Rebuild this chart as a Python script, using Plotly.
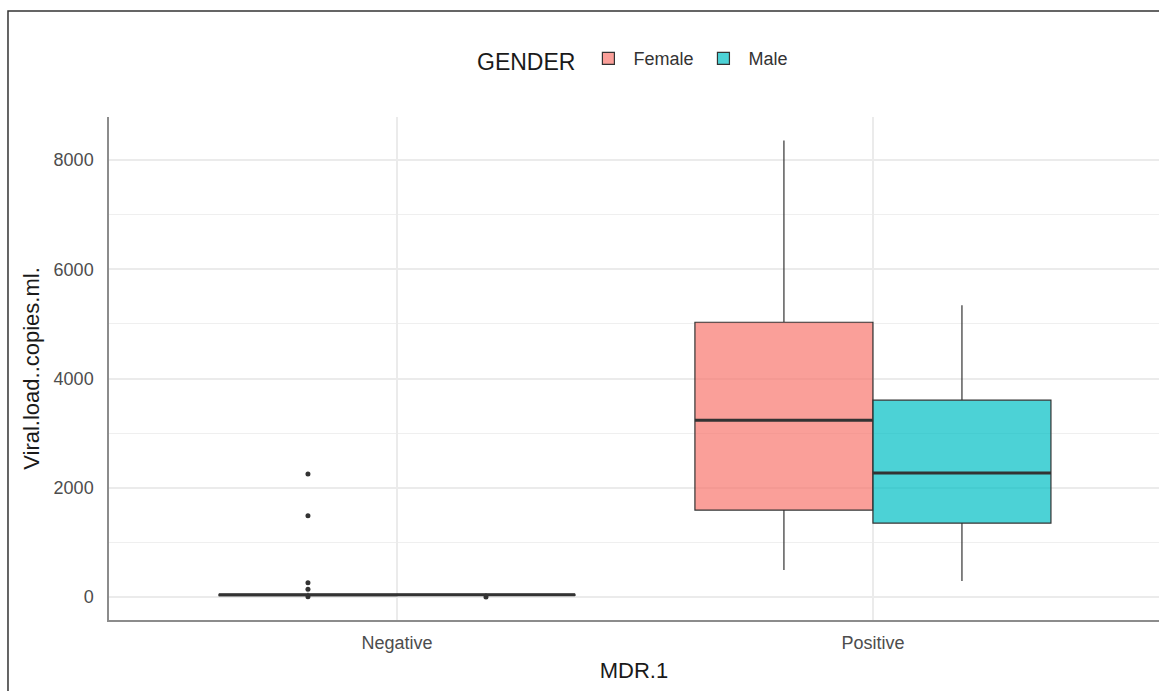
import plotly.graph_objects as go

categories = ["Negative", "Positive"]
genders = ["Female", "Male"]

# precomputed box statistics per category
female_lower = [10, 494]
female_q1 = [25, 1592]
female_median = [40, 3238]
female_q3 = [50, 5031]
female_upper = [80, 8361]
female_outliers = [[2253, 1489, 262, 141, 5], []]

male_lower = [15, 293]
male_q1 = [30, 1354]
male_median = [40, 2269]
male_q3 = [50, 3604]
male_upper = [70, 5342]
male_outliers = [[0], []]

fill_colors = {"Female": "rgba(248,118,109,0.7)", "Male": "rgba(0,191,196,0.7)"}
line_col = "#333333"

stats = {
    "Female": (female_lower, female_q1, female_median, female_q3, female_upper, female_outliers),
    "Male": (male_lower, male_q1, male_median, male_q3, male_upper, male_outliers),
}

fig = go.Figure()
for g in genders:
    lo, q1, med, q3, up, outl = stats[g]
    fig.add_trace(go.Box(
        x=categories, y=outl, q1=q1, median=med, q3=q3,
        lowerfence=lo, upperfence=up,
        name=g, offsetgroup=g, alignmentgroup="a",
        fillcolor=fill_colors[g],
        line=dict(color=line_col, width=1.2),
        whiskerwidth=0,
        boxpoints="outliers", jitter=0, pointpos=0,
        marker=dict(color=line_col, size=5, symbol="circle"),
        hoverinfo="skip",
    ))
for g in genders:
    lo, q1, med, q3, up, outl = stats[g]
    fig.add_trace(go.Box(
        x=categories, q1=med, median=med, q3=med,
        lowerfence=med, upperfence=med,
        name=g, offsetgroup=g, alignmentgroup="a",
        fillcolor="rgba(0,0,0,0)",
        line=dict(color=line_col, width=3),
        whiskerwidth=0, boxpoints=False,
        showlegend=False, hoverinfo="skip",
    ))

font_family = "Liberation Sans, Arial, sans-serif"
fig.update_layout(
    width=1159, height=691,
    margin=dict(l=109, r=0, t=117, b=71),
    paper_bgcolor="white", plot_bgcolor="white",
    boxmode="group", boxgap=0.252, boxgroupgap=0,
    font=dict(family=font_family, color="#4D4D4D", size=18),
    showlegend=True,
    legend=dict(
        orientation="h", x=0.5, xanchor="center", y=1.113, yanchor="middle",
        title=dict(text="GENDER", font=dict(size=23, color="#1a1a1a")),
        font=dict(size=18, color="#333333"),
        itemwidth=40,
    ),
    xaxis=dict(
        type="category", categoryorder="array", categoryarray=categories,
        range=[-0.605, 1.601],
        showgrid=True, gridcolor="#EBEBEB", gridwidth=1.5,
        showline=True, linecolor="#8c8c8c", linewidth=1.5,
        ticks="", ticklabelstandoff=6, tickfont=dict(size=18, color="#4D4D4D"),
        title=dict(text="MDR.1", font=dict(size=22, color="#1a1a1a"), standoff=10),
        zeroline=False,
    ),
    yaxis=dict(
        range=[-421, 8790],
        tickvals=[0, 2000, 4000, 6000, 8000],
        showgrid=True, gridcolor="#EBEBEB", gridwidth=1.5,
        minor=dict(tickvals=[1000, 3000, 5000, 7000], showgrid=True,
                   gridcolor="#EFEFEF", gridwidth=1),
        showline=True, linecolor="#8c8c8c", linewidth=1.5,
        ticks="", ticklabelstandoff=10, tickfont=dict(size=18, color="#4D4D4D"),
        title=dict(text="Viral.load..copies.ml.", font=dict(size=22, color="#1a1a1a"), standoff=8),
        zeroline=False,
    ),
    shapes=[dict(type="rect", xref="paper", yref="paper",
                 x0=-0.0962, x1=1.2, y0=-0.3, y1=1.2107,
                 line=dict(color="#333333", width=1.5), fillcolor="rgba(0,0,0,0)",
                 layer="above")],
)

fig.write_html("out.html", config={"displayModeBar": False},
               post_script="document.body.style.margin='0px';")
